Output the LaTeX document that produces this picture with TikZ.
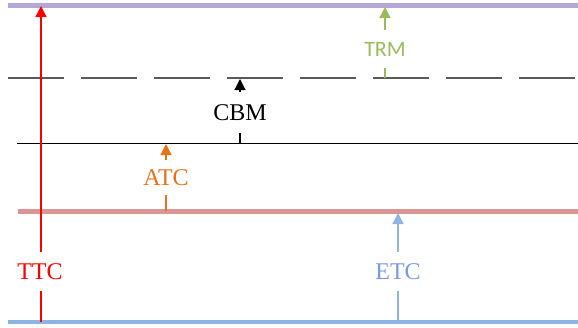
\documentclass[tikz,border=0pt]{standalone}
\usepackage{fontspec}
\setmainfont{Liberation Serif}
\newfontfamily\calfont{Carlito}
\usetikzlibrary{arrows.meta}

\definecolor{levelpurple}{RGB}{180,167,214}
\definecolor{levelrose}{RGB}{218,150,148}
\definecolor{levelblue}{RGB}{141,180,226}
\definecolor{arrorange}{RGB}{232,114,26}
\definecolor{arrgreen}{RGB}{155,187,89}
\definecolor{dashgray}{RGB}{90,90,90}

\tikzset{
  level/.style={line width=#1},
  tip/.style={-{Triangle[length=11pt,width=11pt]}},
  lbl/.style={inner sep=0pt, font=\fontsize{24}{24}\selectfont},
}

\begin{document}
\begin{tikzpicture}[x=1pt,y=-1pt]
\useasboundingbox (0,0) rectangle (578,327);

% horizontal levels
\coordinate (tl) at (8,5);   \coordinate (tr) at (578,5);
\coordinate (dl) at (8,78);  \coordinate (dr) at (578,78);
\coordinate (sl) at (17,143); \coordinate (sr) at (578,143);
\coordinate (rl) at (18,211); \coordinate (rr) at (578,211);
\coordinate (bl) at (8,322); \coordinate (br) at (578,322);

\draw[level=5pt, levelpurple] (tl) -- (tr);
\draw[line width=1.3pt, dashgray, dash pattern=on 56pt off 17pt] (dl) -- (dr);
\draw[line width=1pt, black] (sl) -- (sr);
\draw[level=5pt, levelrose] (rl) -- (rr);
\draw[level=4pt, levelblue] (bl) -- (br);

% TTC
\node[lbl, red, minimum height=39pt] (ttc) at (40,271.5) {TTC};
\coordinate (ttcb) at (41,322);
\coordinate (ttct) at (41,6);
\draw[red, line width=1.2pt] (ttcb) -- (ttcb |- ttc.south);
\draw[red, line width=1.2pt, tip] (ttct |- ttc.north) -- (ttct);

% TRM
\node[inner sep=0pt, arrgreen, font=\calfont\fontsize{22}{22}\selectfont, minimum height=38pt] (trm) at (385,49) {TRM};
\coordinate (trmb) at (385,78);
\coordinate (trmt) at (385,7);
\draw[arrgreen, line width=1.3pt] (trmb) -- (trmb |- trm.south);
\draw[arrgreen, line width=1.3pt, tip] (trmt |- trm.north) -- (trmt);

% CBM
\node[lbl, black, minimum height=41pt] (cbm) at (240,112.5) {CBM};
\coordinate (cbmb) at (240,143);
\coordinate (cbmt) at (240,79);
\draw[black, line width=1.2pt] (cbmb) -- (cbmb |- cbm.south);
\draw[black, line width=1.2pt, tip] (cbmt |- cbm.north) -- (cbmt);

% ATC
\node[lbl, arrorange, minimum height=35pt] (atc) at (166,177.5) {ATC};
\coordinate (atcb) at (166,211);
\coordinate (atct) at (166,144);
\draw[arrorange, line width=1.3pt] (atcb) -- (atcb |- atc.south);
\draw[arrorange, line width=1.3pt, tip] (atct |- atc.north) -- (atct);

% ETC
\node[lbl, levelblue!85!blue, minimum height=39pt] (etc) at (398,271.5) {ETC};
\coordinate (etcb) at (398,322);
\coordinate (etct) at (398,213);
\draw[levelblue, line width=1.5pt] (etcb) -- (etcb |- etc.south);
\draw[levelblue, line width=1.5pt, tip] (etct |- etc.north) -- (etct);
\end{tikzpicture}
\end{document}
